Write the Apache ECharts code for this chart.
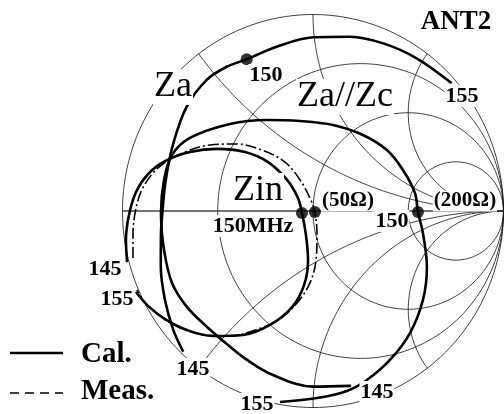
<!DOCTYPE html>
<html>
<head>
<meta charset="utf-8">
<script src="https://cdn.jsdelivr.net/npm/echarts/dist/echarts.min.js"></script>
<style>
  html, body { margin: 0; padding: 0; background: #fff; }
  #chart { width: 504px; height: 414px; }
</style>
</head>
<body>
<div id="chart"></div>
<script>
// Smith chart grid (normalised to 50 ohm)
const resistanceCircles = [1 / 3, 1, 3];
const reactanceArcs = [0.5, 1, 2, -0.5, -1, -2];

// reflection coefficient [re, im] along each curve, 145 MHz -> 155 MHz
const zaCal = [
  [-0.681, -0.716], [-0.733, -0.606], [-0.777, -0.453], [-0.799, -0.283],
  [-0.798, -0.113], [-0.791, -0.012], [-0.773, 0.158], [-0.733, 0.345],
  [-0.663, 0.531], [-0.558, 0.667], [-0.453, 0.734], [-0.348, 0.772],
  [-0.191, 0.836], [0.002, 0.884], [0.194, 0.887], [0.369, 0.853],
  [0.544, 0.777], [0.728, 0.650]
];
const zaZcCal = [
  [0.200, -0.890], [0.0, -0.894], [-0.210, -0.835], [-0.346, -0.758],
  [-0.446, -0.682], [-0.556, -0.590], [-0.661, -0.489], [-0.740, -0.366],
  [-0.782, -0.198], [-0.798, -0.010], [-0.782, 0.158], [-0.740, 0.285],
  [-0.646, 0.372], [-0.436, 0.443], [-0.241, 0.463], [-0.068, 0.458],
  [0.105, 0.438], [0.262, 0.387], [0.388, 0.310], [0.472, 0.209],
  [0.535, 0.092], [0.551, -0.005], [0.577, -0.112], [0.598, -0.285],
  [0.577, -0.453], [0.509, -0.621], [0.404, -0.758], [0.283, -0.860],
  [0.178, -0.916], [0.021, -0.952], [-0.173, -0.972]
];
const zinCal = [
  [-0.976, -0.260], [-0.982, -0.148], [-0.966, -0.020], [-0.929, 0.097],
  [-0.866, 0.188], [-0.777, 0.254], [-0.646, 0.300], [-0.504, 0.316],
  [-0.357, 0.300], [-0.236, 0.249], [-0.136, 0.158], [-0.079, 0.066],
  [-0.058, -0.010], [-0.037, -0.122], [-0.026, -0.249], [-0.047, -0.377],
  [-0.110, -0.489], [-0.226, -0.580], [-0.367, -0.631], [-0.525, -0.636],
  [-0.661, -0.606], [-0.777, -0.550], [-0.866, -0.483], [-0.929, -0.412]
];
const zinMeas = [
  [-0.945, -0.239], [-0.945, -0.122], [-0.934, -0.010], [-0.903, 0.097],
  [-0.845, 0.188], [-0.766, 0.254], [-0.661, 0.305], [-0.541, 0.336],
  [-0.399, 0.341], [-0.268, 0.310], [-0.147, 0.249], [-0.068, 0.158],
  [-0.016, 0.066], [0.010, -0.005], [0.021, -0.122], [0.016, -0.249],
  [-0.016, -0.366], [-0.084, -0.468], [-0.184, -0.555], [-0.304, -0.606],
  [-0.436, -0.636], [-0.567, -0.631], [-0.682, -0.601], [-0.787, -0.545],
  [-0.871, -0.478], [-0.924, -0.402]
];
// 150 MHz points: Za, Za//Zc, Zin cal., Zin meas.
const points150 = [[-0.348, 0.772], [0.551, -0.005], [-0.058, -0.010], [0.010, -0.005]];

function gammaOf(r, x) {
  const den = (r + 1) * (r + 1) + x * x;
  return [(r * r + x * x - 1) / den, (2 * x) / den];
}

function resistanceCircle(r) {
  const c = r / (1 + r), rad = 1 / (1 + r), pts = [];
  for (let i = 0; i <= 180; i++) {
    const t = (i / 180) * Math.PI * 2;
    pts.push([c + rad * Math.cos(t), rad * Math.sin(t)]);
  }
  return pts;
}

function reactanceArc(x) {
  const pts = [];
  for (let i = 0; i < 120; i++) {
    const r = Math.tan((i / 120) * Math.PI / 2);
    pts.push(gammaOf(r, x));
  }
  pts.push([1, 0]);
  return pts;
}

const thin = { color: '#111', width: 0.8 };
const thick = { color: '#000', width: 2.6 };

function curve(data, lineStyle, smooth, z) {
  return {
    type: 'line', data, symbol: 'none', smooth, silent: true,
    lineStyle, z, clip: false
  };
}

const series = [];
series.push(curve(resistanceCircle(0), thin, false, 1));
resistanceCircles.forEach(r => series.push(curve(resistanceCircle(r), thin, false, 1)));
reactanceArcs.forEach(x => series.push(curve(reactanceArc(x), thin, false, 1)));
series.push(curve([[-1, 0], [1, 0]], { color: '#444', width: 1.6 }, false, 1));

series.push(curve(zaCal, thick, 0.35, 3));
series.push(curve(zaZcCal, thick, 0.35, 3));
series.push(curve(zinCal, thick, 0.35, 3));
series.push(curve(zinMeas, { color: '#000', width: 1.6, type: [11, 3, 2, 3] }, 0.35, 3));
series.push({
  type: 'scatter', data: points150, symbolSize: 12, silent: true, z: 5,
  itemStyle: { color: '#000' }
});

const bold = s => `bold ${s}px "Liberation Serif", "DejaVu Serif", serif`;
const reg = s => `${s}px "Liberation Serif", "DejaVu Serif", serif`;

function label(text, x, y, font, align) {
  return {
    type: 'text', x, y, z: 10, silent: true,
    style: {
      text, font, fill: '#000', align: align || 'center', verticalAlign: 'middle',
      backgroundColor: '#fff', padding: [0, 1]
    }
  };
}

const graphics = [
  label('ANT2', 456, 22, bold(27)),
  label('Za', 173, 87, reg(36)),
  label('Za//Zc', 345, 97, reg(36)),
  label('Zin', 258, 191, reg(36)),
  label('(50Ω)', 348, 201, bold(21)),
  label('(200Ω)', 465, 201, bold(21)),
  label('150MHz', 253, 226, bold(22)),
  label('150', 266, 75, bold(22)),
  label('155', 462, 96, bold(22)),
  label('150', 392, 221, bold(22)),
  label('145', 105, 269, bold(22)),
  label('155', 117, 299, bold(22)),
  label('145', 193, 369, bold(22)),
  label('155', 257, 404, bold(22)),
  label('145', 377, 392, bold(22)),
  label('Cal.', 80, 355, bold(29), 'left'),
  label('Meas.', 80, 392, bold(29), 'left'),
  {
    type: 'line', z: 10, silent: true,
    shape: { x1: 10, y1: 353, x2: 63, y2: 353 },
    style: { stroke: '#000', lineWidth: 2.5 }
  },
  {
    type: 'line', z: 10, silent: true,
    shape: { x1: 10, y1: 393, x2: 63, y2: 393 },
    style: { stroke: '#000', lineWidth: 1.5, lineDash: [9, 6] }
  }
];

const chart = echarts.init(document.getElementById('chart'), null, { renderer: 'canvas' });
chart.setOption({
  animation: false,
  backgroundColor: '#fff',
  grid: { left: 122.5, top: 14.5, width: 381, height: 393 },
  xAxis: { type: 'value', min: -1, max: 1, show: false },
  yAxis: { type: 'value', min: -1, max: 1, show: false },
  series,
  graphic: graphics
});
</script>
</body>
</html>
